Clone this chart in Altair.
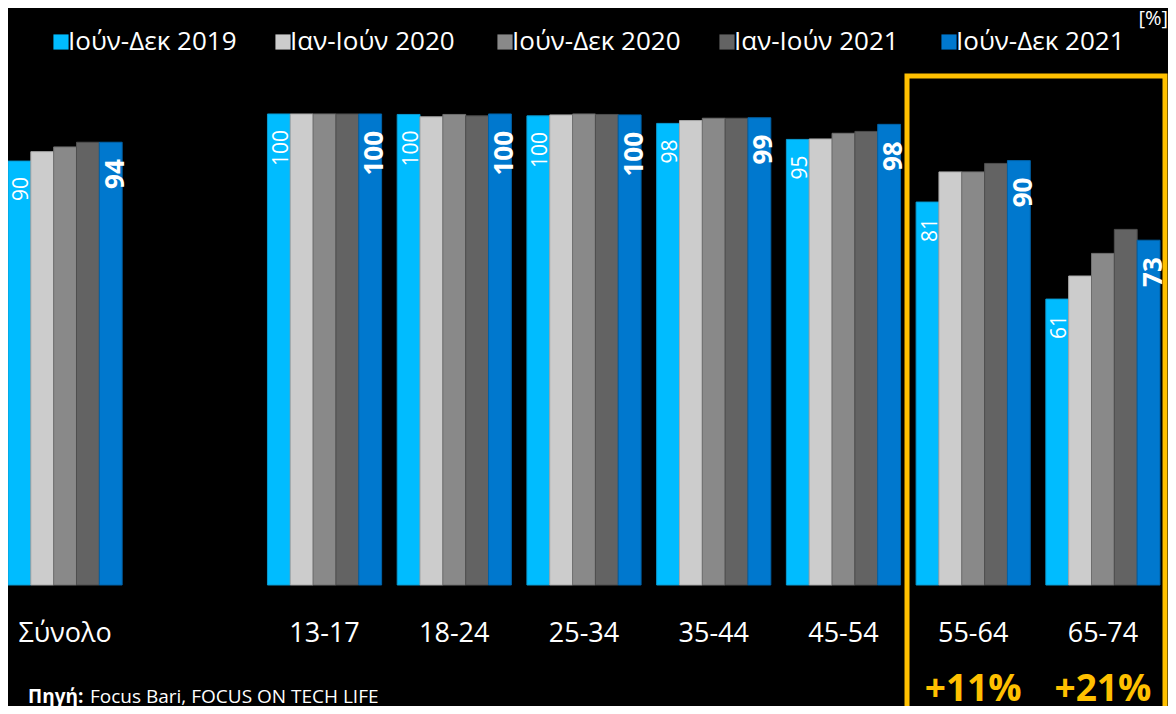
import altair as alt
import pandas as pd

categories = ["Σύνολο", " ", "13-17", "18-24", "25-34", "35-44", "45-54", "55-64", "65-74"]
groups = ["Σύνολο", "13-17", "18-24", "25-34", "35-44", "45-54", "55-64", "65-74"]
series = ["Ιούν-Δεκ 2019", "Ιαν-Ιούν 2020", "Ιούν-Δεκ 2020", "Ιαν-Ιούν 2021", "Ιούν-Δεκ 2021"]
colors = ["#00BCFF", "#CCCCCC", "#898989", "#636363", "#0078CE"]
strokes = ["#0A9AD0", "#A8A8A8", "#6E6E6E", "#4E4E4E", "#0062A8"]

v_2019_h2 = [90, 100, 99.9, 99.6, 98.0, 94.6, 81.3, 60.7]
v_2020_h1 = [92, 100, 99.4, 99.8, 98.6, 94.7, 87.7, 65.6]
v_2020_h2 = [93, 100, 99.9, 100, 99.1, 95.9, 87.7, 70.4]
v_2021_h1 = [94, 100, 99.6, 99.9, 99.1, 96.3, 89.5, 75.5]
v_2021_h2 = [94, 100, 100, 99.8, 99.2, 97.8, 90.1, 73.2]

growth_groups = ["55-64", "65-74"]
growth_labels = ["+11%", "+21%"]

rows = []
for s, vals in zip(series, [v_2019_h2, v_2020_h1, v_2020_h2, v_2021_h1, v_2021_h2]):
    for g, v in zip(groups, vals):
        rows.append({"cat": g, "series": s, "value": v})
df = pd.DataFrame(rows)

FONT = "Open Sans"

xscale = alt.Scale(domain=categories, paddingInner=0.12, paddingOuter=0)
xenc = alt.X("cat:N", scale=xscale,
             axis=alt.Axis(title=None, ticks=False, domain=False, labelColor="white",
                           labelFont=FONT, labelFontSize=27, labelPadding=35,
                           labelBaseline="top", labelAngle=0))
xoff = alt.XOffset("series:N", scale=alt.Scale(domain=series, paddingInner=0, paddingOuter=0))
yenc = alt.Y("value:Q", scale=alt.Scale(domain=[0, 122.5], nice=False), axis=None)

base = alt.Chart(df)

bars = base.mark_bar(strokeWidth=1).encode(
    x=xenc, xOffset=xoff, y=yenc,
    color=alt.Color("series:N", scale=alt.Scale(domain=series, range=colors),
                    legend=alt.Legend(title=None, orient="none", legendX=40, legendY=21,
                                      direction="horizontal", columns=5, symbolType="square",
                                      symbolSize=230, symbolStrokeWidth=0, labelColor="white",
                                      labelFont=FONT, labelFontSize=26, labelOffset={"expr": "-6"},
                                      columnPadding=33, gridAlign="all", labelLimit=300)),
    stroke=alt.Stroke("series:N", scale=alt.Scale(domain=series, range=strokes), legend=None),
)

# angle 270: dx runs along the text (screen up), dy runs to screen right
first_labels = base.transform_filter(alt.datum.series == series[0]).mark_text(
    angle=270, align="right", baseline="middle", dx=-16, dy=3,
    color="white", font=FONT, fontSize=21,
).encode(x=xenc, xOffset=xoff, y=yenc, text=alt.Text("value:Q", format=".0f"))

last_labels = base.transform_filter(alt.datum.series == series[4]).mark_text(
    angle=270, align="right", baseline="middle", dx=-17, dy=5,
    color="white", font=FONT, fontSize=26, fontWeight="bold",
).encode(x=xenc, xOffset=xoff, y=yenc, text=alt.Text("value:Q", format=".0f"))

gdf = pd.DataFrame({"cat": growth_groups, "label": growth_labels})
growth = alt.Chart(gdf).mark_text(
    color="#FFC000", font=FONT, fontSize=37, fontWeight="bold", baseline="middle",
).encode(x=alt.X("cat:N", scale=xscale), y=alt.value(682), text="label:N")

one = pd.DataFrame({"a": [0]})
box = alt.Chart(one).mark_rect(fill=None, stroke="#FFC000", strokeWidth=5).encode(
    x=alt.value(899), x2=alt.value(1157), y=alt.value(68), y2=alt.value(740))

src_bold = alt.Chart(one).mark_text(
    text="Πηγή:", color="white", font=FONT, fontSize=19, fontWeight="bold",
    align="left", baseline="middle").encode(x=alt.value(20), y=alt.value(689))
src_rest = alt.Chart(one).mark_text(
    text="Focus Bari, FOCUS ON TECH LIFE", color="white", font=FONT, fontSize=19,
    align="left", baseline="middle").encode(x=alt.value(82), y=alt.value(689))
unit = alt.Chart(one).mark_text(
    text="[%]", color="white", font=FONT, fontSize=20,
    align="right", baseline="middle").encode(x=alt.value(1160), y=alt.value(11))

chart = alt.layer(bars, first_labels, last_labels, growth, box, src_bold, src_rest, unit).properties(
    width=1152, height=577, background="black",
    padding={"left": 0, "top": 0, "right": 8, "bottom": 121},
    autosize=alt.AutoSizeParams(type="none"),
).configure_view(stroke=None)

chart.save("out.html", embed_options={"renderer": "svg", "actions": False})
